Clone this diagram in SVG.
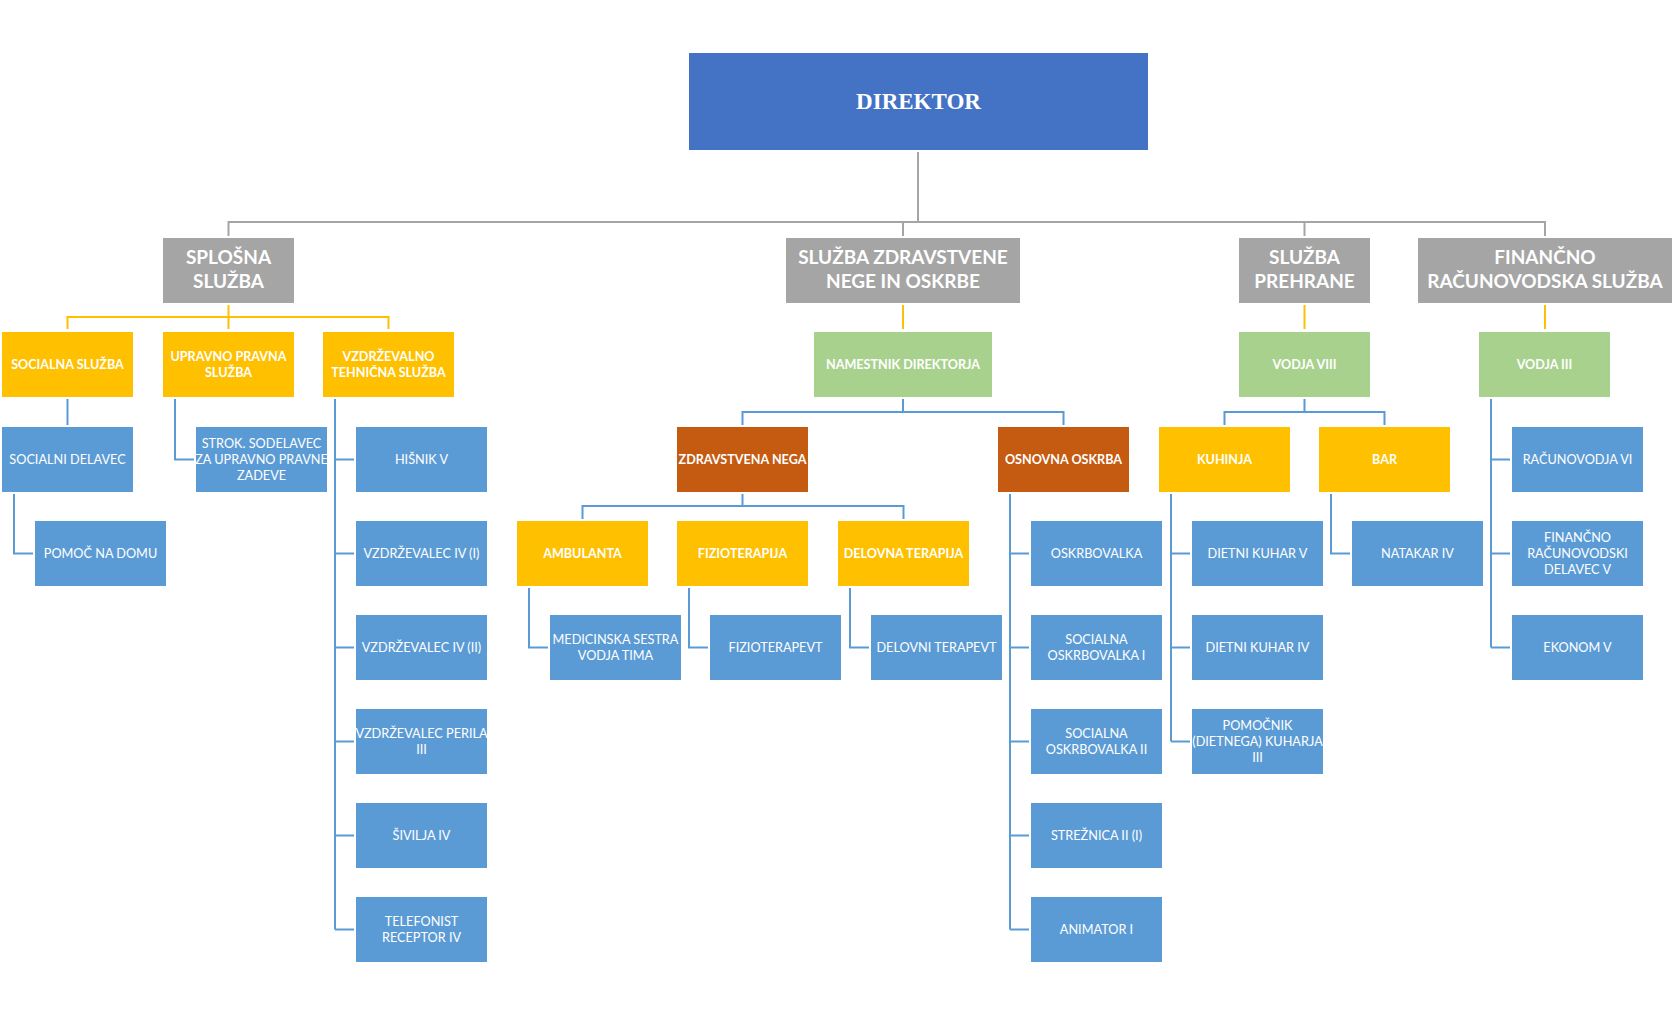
<svg xmlns="http://www.w3.org/2000/svg" width="1675" height="1012" viewBox="0 0 1675 1012">
<style>
.bg{fill:#FFFFFF}
.dir{fill:#4472C4}
.gr{fill:#A5A5A5}
.ye{fill:#FFC000}
.gn{fill:#A9D18E}
.or{fill:#C55A11}
.bl{fill:#5B9BD5}
text{fill:#FFFFFF;text-anchor:middle;font-family:Lato,"Liberation Sans",sans-serif}
.t-dir{font-family:"Liberation Serif",serif;font-weight:bold;font-size:23px}
.t-gr{font-weight:bold;font-size:19px}
.t-b{font-weight:bold;font-size:12.6px}
.t-r{font-size:12.7px}
.c-gr{stroke:#A5A5A5;stroke-width:2;fill:none}
.c-ye{stroke:#FFC000;stroke-width:2;fill:none}
.c-bl{stroke:#5B9BD5;stroke-width:2;fill:none}
</style>
<rect class="bg" x="0" y="0" width="1675" height="1012"/>
<g id="connectors">
<path class="c-gr" d="M918,152 V222 M228.5,236 V222 H1545 V236 M903,222 V236 M1304.5,222 V236"/>
<path class="c-ye" d="M228.5,305 V329 M67.5,329 V317 H388.5 V329 M903,305 V329 M1304.5,305 V329 M1545,305 V329"/>
<path class="c-bl" d="M67.5,399 V425"/>
<path class="c-bl" d="M14,494 V553.5 H33"/>
<path class="c-bl" d="M175,399 V459.5 H194"/>
<path class="c-bl" d="M335,399 V929.5 M335,459.5 H354 M335,553.5 H354 M335,647.5 H354 M335,741.5 H354 M335,835.5 H354 M335,929.5 H354"/>
<path class="c-bl" d="M903,399 V412 M742.5,425 V412 H1063.5 V425"/>
<path class="c-bl" d="M742.5,494 V506 M582.5,519 V506 H903.5 V519"/>
<path class="c-bl" d="M529,588 V647.5 H548 M689,588 V647.5 H708 M850,588 V647.5 H869"/>
<path class="c-bl" d="M1010,494 V929.5 M1010,553.5 H1029 M1010,647.5 H1029 M1010,741.5 H1029 M1010,835.5 H1029 M1010,929.5 H1029"/>
<path class="c-bl" d="M1304.5,399 V412 M1224.5,425 V412 H1384.5 V425"/>
<path class="c-bl" d="M1171,494 V741.5 M1171,553.5 H1190 M1171,647.5 H1190 M1171,741.5 H1190"/>
<path class="c-bl" d="M1331,494 V553.5 H1350"/>
<path class="c-bl" d="M1491,399 V647.5 M1491,459.5 H1510 M1491,553.5 H1510 M1491,647.5 H1510"/>
</g>
<g id="direktor"><rect class="dir" x="689" y="53" width="459" height="97"/><text class="t-dir" x="918.5" y="108.5">DIREKTOR</text></g>
<g id="splosna-sluzba"><rect class="gr" x="163" y="238" width="131" height="65"/><text class="t-gr" x="228.5" y="264">SPLOŠNA</text><text class="t-gr" x="228.5" y="288">SLUŽBA</text></g>
<g id="sluzba-zdravstvene"><rect class="gr" x="786" y="238" width="234" height="65"/><text class="t-gr" x="903" y="264">SLUŽBA ZDRAVSTVENE</text><text class="t-gr" x="903" y="288">NEGE IN OSKRBE</text></g>
<g id="sluzba-prehrane"><rect class="gr" x="1239" y="238" width="131" height="65"/><text class="t-gr" x="1304.5" y="264">SLUŽBA</text><text class="t-gr" x="1304.5" y="288">PREHRANE</text></g>
<g id="financno-sluzba"><rect class="gr" x="1418" y="238" width="254" height="65"/><text class="t-gr" x="1545" y="264">FINANČNO</text><text class="t-gr" x="1545" y="288">RAČUNOVODSKA SLUŽBA</text></g>

<g id="socialna-sluzba"><rect class="ye" x="2" y="332" width="131" height="65"/><text class="t-b" x="67.5" y="369">SOCIALNA SLUŽBA</text></g>
<g id="upravno-pravna"><rect class="ye" x="163" y="332" width="131" height="65"/><text class="t-b" x="228.5" y="361">UPRAVNO PRAVNA</text><text class="t-b" x="228.5" y="377">SLUŽBA</text></g>
<g id="vzdrzevalno"><rect class="ye" x="323" y="332" width="131" height="65"/><text class="t-b" x="388.5" y="361">VZDRŽEVALNO</text><text class="t-b" x="388.5" y="377">TEHNIČNA SLUŽBA</text></g>
<g id="namestnik"><rect class="gn" x="814" y="332" width="178" height="65"/><text class="t-b" x="903" y="369">NAMESTNIK DIREKTORJA</text></g>
<g id="vodja-viii"><rect class="gn" x="1239" y="332" width="131" height="65"/><text class="t-b" x="1304.5" y="369">VODJA VIII</text></g>
<g id="vodja-iii"><rect class="gn" x="1479" y="332" width="131" height="65"/><text class="t-b" x="1544.5" y="369">VODJA III</text></g>

<g id="socialni-delavec"><rect class="bl" x="2" y="427" width="131" height="65"/><text class="t-r" x="67.5" y="464">SOCIALNI DELAVEC</text></g>
<g id="strok-sodelavec"><rect class="bl" x="196" y="427" width="131" height="65"/><text class="t-r" x="261.5" y="448">STROK. SODELAVEC</text><text class="t-r" x="261.5" y="464">ZA UPRAVNO PRAVNE</text><text class="t-r" x="261.5" y="480">ZADEVE</text></g>
<g id="hisnik"><rect class="bl" x="356" y="427" width="131" height="65"/><text class="t-r" x="421.5" y="464">HIŠNIK V</text></g>
<g id="zdravstvena-nega"><rect class="or" x="677" y="427" width="131" height="65"/><text class="t-b" x="742.5" y="464">ZDRAVSTVENA NEGA</text></g>
<g id="osnovna-oskrba"><rect class="or" x="998" y="427" width="131" height="65"/><text class="t-b" x="1063.5" y="464">OSNOVNA OSKRBA</text></g>
<g id="kuhinja"><rect class="ye" x="1159" y="427" width="131" height="65"/><text class="t-b" x="1224.5" y="464">KUHINJA</text></g>
<g id="bar"><rect class="ye" x="1319" y="427" width="131" height="65"/><text class="t-b" x="1384.5" y="464">BAR</text></g>
<g id="racunovodja"><rect class="bl" x="1512" y="427" width="131" height="65"/><text class="t-r" x="1577.5" y="464">RAČUNOVODJA VI</text></g>

<g id="pomoc-na-domu"><rect class="bl" x="35" y="521" width="131" height="65"/><text class="t-r" x="100.5" y="558">POMOČ NA DOMU</text></g>
<g id="vzdrzevalec-iv-i"><rect class="bl" x="356" y="521" width="131" height="65"/><text class="t-r" x="421.5" y="558">VZDRŽEVALEC IV (I)</text></g>
<g id="ambulanta"><rect class="ye" x="517" y="521" width="131" height="65"/><text class="t-b" x="582.5" y="558">AMBULANTA</text></g>
<g id="fizioterapija"><rect class="ye" x="677" y="521" width="131" height="65"/><text class="t-b" x="742.5" y="558">FIZIOTERAPIJA</text></g>
<g id="delovna-terapija"><rect class="ye" x="838" y="521" width="131" height="65"/><text class="t-b" x="903.5" y="558">DELOVNA TERAPIJA</text></g>
<g id="oskrbovalka"><rect class="bl" x="1031" y="521" width="131" height="65"/><text class="t-r" x="1096.5" y="558">OSKRBOVALKA</text></g>
<g id="dietni-kuhar-v"><rect class="bl" x="1192" y="521" width="131" height="65"/><text class="t-r" x="1257.5" y="558">DIETNI KUHAR V</text></g>
<g id="natakar"><rect class="bl" x="1352" y="521" width="131" height="65"/><text class="t-r" x="1417.5" y="558">NATAKAR IV</text></g>
<g id="financno-delavec"><rect class="bl" x="1512" y="521" width="131" height="65"/><text class="t-r" x="1577.5" y="542">FINANČNO</text><text class="t-r" x="1577.5" y="558">RAČUNOVODSKI</text><text class="t-r" x="1577.5" y="574">DELAVEC V</text></g>

<g id="vzdrzevalec-iv-ii"><rect class="bl" x="356" y="615" width="131" height="65"/><text class="t-r" x="421.5" y="652">VZDRŽEVALEC IV (II)</text></g>
<g id="medicinska-sestra"><rect class="bl" x="550" y="615" width="131" height="65"/><text class="t-r" x="615.5" y="644">MEDICINSKA SESTRA</text><text class="t-r" x="615.5" y="660">VODJA TIMA</text></g>
<g id="fizioterapevt"><rect class="bl" x="710" y="615" width="131" height="65"/><text class="t-r" x="775.5" y="652">FIZIOTERAPEVT</text></g>
<g id="delovni-terapevt"><rect class="bl" x="871" y="615" width="131" height="65"/><text class="t-r" x="936.5" y="652">DELOVNI TERAPEVT</text></g>
<g id="socialna-oskrbovalka-i"><rect class="bl" x="1031" y="615" width="131" height="65"/><text class="t-r" x="1096.5" y="644">SOCIALNA</text><text class="t-r" x="1096.5" y="660">OSKRBOVALKA I</text></g>
<g id="dietni-kuhar-iv"><rect class="bl" x="1192" y="615" width="131" height="65"/><text class="t-r" x="1257.5" y="652">DIETNI KUHAR IV</text></g>
<g id="ekonom"><rect class="bl" x="1512" y="615" width="131" height="65"/><text class="t-r" x="1577.5" y="652">EKONOM V</text></g>

<g id="vzdrzevalec-perila"><rect class="bl" x="356" y="709" width="131" height="65"/><text class="t-r" x="421.5" y="738">VZDRŽEVALEC PERILA</text><text class="t-r" x="421.5" y="754">III</text></g>
<g id="socialna-oskrbovalka-ii"><rect class="bl" x="1031" y="709" width="131" height="65"/><text class="t-r" x="1096.5" y="738">SOCIALNA</text><text class="t-r" x="1096.5" y="754">OSKRBOVALKA II</text></g>
<g id="pomocnik-kuharja"><rect class="bl" x="1192" y="709" width="131" height="65"/><text class="t-r" x="1257.5" y="730">POMOČNIK</text><text class="t-r" x="1257.5" y="746">(DIETNEGA) KUHARJA</text><text class="t-r" x="1257.5" y="762">III</text></g>

<g id="sivilja"><rect class="bl" x="356" y="803" width="131" height="65"/><text class="t-r" x="421.5" y="840">ŠIVILJA IV</text></g>
<g id="streznica"><rect class="bl" x="1031" y="803" width="131" height="65"/><text class="t-r" x="1096.5" y="840">STREŽNICA II (I)</text></g>

<g id="telefonist"><rect class="bl" x="356" y="897" width="131" height="65"/><text class="t-r" x="421.5" y="926">TELEFONIST</text><text class="t-r" x="421.5" y="942">RECEPTOR IV</text></g>
<g id="animator"><rect class="bl" x="1031" y="897" width="131" height="65"/><text class="t-r" x="1096.5" y="934">ANIMATOR I</text></g>
</svg>
